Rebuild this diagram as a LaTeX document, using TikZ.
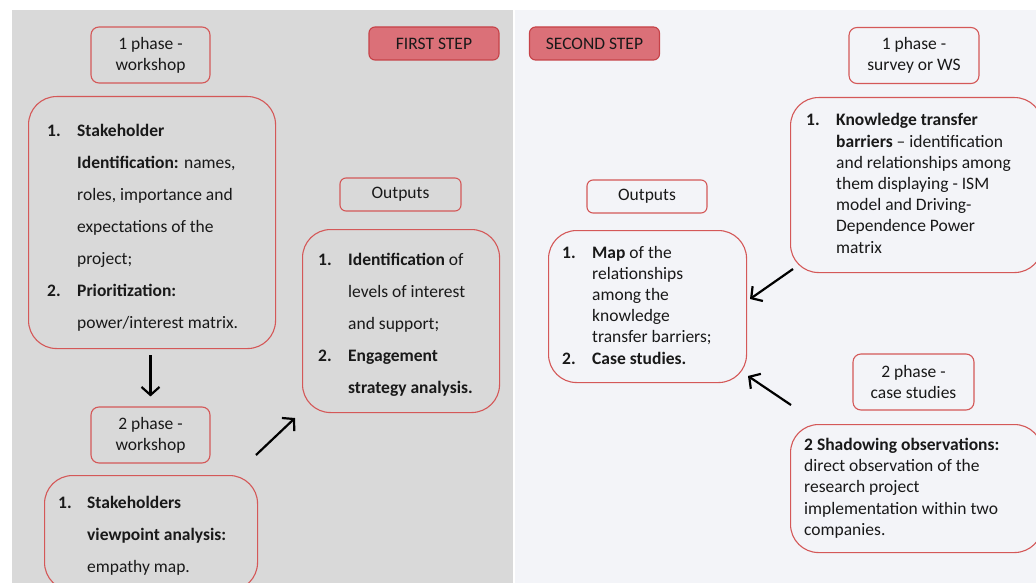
\documentclass[tikz,border=0pt]{standalone}
\usepackage{fontspec}
\setmainfont{Carlito}
\usetikzlibrary{arrows.meta}
\definecolor{panelgray}{RGB}{217,217,217}
\definecolor{panellight}{RGB}{243,244,248}
\definecolor{boxred}{RGB}{212,88,88}
\definecolor{stepfill}{RGB}{219,112,120}
\definecolor{stepline}{RGB}{198,66,72}
\definecolor{ink}{RGB}{25,25,25}
\begin{document}
\begin{tikzpicture}[x=1pt,y=-1pt,text=ink,
  phasebox/.style={draw=boxred,line width=1.1pt,rounded corners=8pt,align=center,
    minimum height=56pt,inner sep=0pt,font=\fontsize{17.5}{21}\selectfont},
  stepbox/.style={draw=stepline,fill=stepfill,line width=1.1pt,rounded corners=6pt,
    minimum width=130pt,minimum height=33pt,font=\fontsize{17.5}{21}\selectfont},
  outbox/.style={draw=boxred,line width=1.1pt,rounded corners=6pt,
    minimum width=121pt,minimum height=33pt,font=\fontsize{17.5}{21}\selectfont},
  listbox/.style={draw=boxred,line width=1.1pt,rounded corners=28pt,anchor=north west,inner sep=0pt},
  listtext/.style={anchor=base west,inner sep=0pt,font=\fontsize{17.5}{21.2}\selectfont},
  bigarrow/.style={-{Straight Barb[length=8pt,width=18pt]},line width=2.2pt}]
\useasboundingbox (0,0) rectangle (1036,583);
\clip (0,0) rectangle (1036,583);
% panels
\fill[white] (0,0) rectangle (1036,583);
\fill[panelgray] (12,10) rectangle (513,583);
\fill[panellight] (515,10) rectangle (1036,583);
% first step
\node[stepbox] (step1) at (434,43.5) {FIRST STEP};
\node[phasebox,minimum width=119pt] (ph1) at (150.5,55) {1 phase -\\workshop};
\node[listbox,minimum width=247pt,minimum height=252pt] (idbox) at (28,96) {};
\node[listtext] (idtxt) at (47,136) {\def\arraystretch{1.51}%
\begin{tabular}[t]{@{}p{30pt}@{}l@{}}
\textbf{1.} & \textbf{Stakeholder}\\
 & \textbf{Identification:} names,\\
 & roles, importance and\\
 & expectations of the\\
 & project;\\
\textbf{2.} & \textbf{Prioritization:}\\
 & power/interest matrix.
\end{tabular}};
\node[phasebox,minimum width=119pt] (ph2) at (150.5,435) {2 phase -\\workshop};
\node[listbox,minimum width=213pt,minimum height=115pt] (stkbox) at (44,475) {};
\node[listtext] (stktxt) at (58,508) {\def\arraystretch{1.51}%
\begin{tabular}[t]{@{}p{29pt}@{}l@{}}
\textbf{1.} & \textbf{Stakeholders}\\
 & \textbf{viewpoint analysis:}\\
 & empathy map.
\end{tabular}};
\node[outbox] (outl) at (400.5,194.5) {Outputs};
\node[listbox,minimum width=197pt,minimum height=183pt] (outlbox) at (302,229) {};
\node[listtext] (outltxt) at (318,265) {\def\arraystretch{1.51}%
\begin{tabular}[t]{@{}p{30pt}@{}l@{}}
\textbf{1.} & \textbf{Identification} of\\
 & levels of interest\\
 & and support;\\
\textbf{2.} & \textbf{Engagement}\\
 & \textbf{strategy analysis.}
\end{tabular}};
\draw[bigarrow,shorten <=6pt,shorten >=10pt] (idbox.south -| ph2.north) -- (ph2.north);
\coordinate (ws2out) at (256,455);
\coordinate (outin) at (295,418);
\draw[bigarrow] (ws2out) -- (outin);
% second step
\node[stepbox] (step2) at (594.5,43.5) {SECOND STEP};
\node[phasebox,minimum width=130pt] (ph3) at (914,55.5) {1 phase -\\survey or WS};
\node[listbox,minimum width=252pt,minimum height=175pt] (ktbox) at (790,97) {};
\node[listtext] (kttxt) at (806,126) {\def\arraystretch{1.0}%
\begin{tabular}[t]{@{}p{30pt}@{}l@{}}
\textbf{1.} & \textbf{Knowledge transfer}\\
 & \textbf{barriers} -- identification\\
 & and relationships among\\
 & them displaying - ISM\\
 & model and Driving-\\
 & Dependence Power\\
 & matrix
\end{tabular}};
\node[outbox,minimum width=120pt] (outr) at (647,196.5) {Outputs};
\node[listbox,minimum width=198pt,minimum height=152pt] (mapbox) at (548,230) {};
\node[listtext] (maptxt) at (562,258) {\def\arraystretch{1.0}%
\begin{tabular}[t]{@{}p{30pt}@{}l@{}}
\textbf{1.} & \textbf{Map} of the\\
 & relationships\\
 & among the\\
 & knowledge\\
 & transfer barriers;\\
\textbf{2.} & \textbf{Case studies.}
\end{tabular}};
\node[phasebox,minimum width=121pt] (ph4) at (913.5,382) {2 phase -\\case studies};
\node[listbox,minimum width=252pt,minimum height=128pt] (shbox) at (790,424) {};
\node[listtext] (shtxt) at (804,450) {\def\arraystretch{1.014}%
\begin{tabular}[t]{@{}l@{}}
\textbf{2 Shadowing observations:}\\
direct observation of the\\
research project\\
implementation within two\\
companies.
\end{tabular}};
\coordinate (ktout) at (793,269);
\coordinate (mapin1) at (750,299);
\draw[bigarrow] (ktout) -- (mapin1);
\coordinate (shout) at (791,405);
\coordinate (mapin2) at (748,376);
\draw[bigarrow] (shout) -- (mapin2);
\end{tikzpicture}
\end{document}
